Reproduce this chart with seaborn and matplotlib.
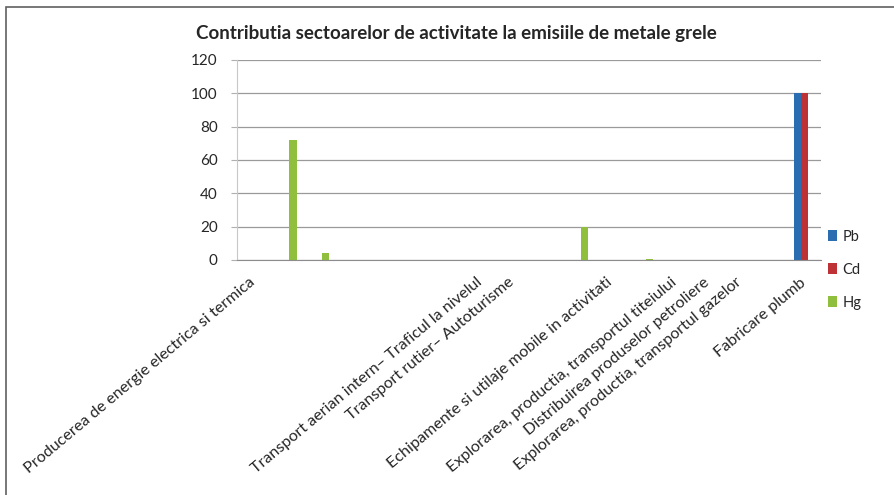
import pandas as pd
import numpy as np
import matplotlib.pyplot as plt
import seaborn as sns
from matplotlib.patches import Rectangle

# category labels (Excel shows blanks for unnamed rows)
sectors = [
    "Producerea de energie electrica si termica", "", "", "", "", "", "",
    "Transport aerian intern\u2013 Traficul la nivelul",
    "Transport rutier\u2013 Autoturisme", "", "",
    "Echipamente si utilaje mobile in activitati", "",
    "Explorarea, productia, transportul titeiului",
    "Distribuirea produselor petroliere",
    "Explorarea, productia, transportul gazelor", "",
    "Fabricare plumb",
]
pb = [0, 0, 0, 0, 0, 0, 0, 0, 0, 0, 0, 0, 0, 0, 0, 0, 0, 100]
cd = [0, 0, 0, 0, 0, 0, 0, 0, 0, 0, 0, 0, 0, 0, 0, 0, 0, 100]
hg = [0, 72, 4, 0, 0, 0, 0, 0, 0, 0, 20, 0, 0.3, 0, 0, 0, 0, 0]
metals = ["Pb", "Cd", "Hg"]
colors = ["#2a6db0", "#be3236", "#8fbf3c"]
yticks = [0, 20, 40, 60, 80, 100, 120]

n = len(sectors)
df = pd.DataFrame({
    "idx": list(range(n)) * 3,
    "metal": ["Pb"] * n + ["Cd"] * n + ["Hg"] * n,
    "val": pb + cd + hg,
})

sns.set_style("white")
plt.rcParams["font.family"] = ["Lato", "DejaVu Sans"]

fig = plt.figure(figsize=(8.95, 4.95), dpi=100)
ax = fig.add_axes([0.265, 0.475, 0.652, 0.404])

sns.barplot(data=df, x="idx", y="val", hue="metal", hue_order=metals,
            palette=colors, width=0.667, gap=0, saturation=1,
            linewidth=0, ax=ax)

ax.set_ylim(0, 120)
ax.set_xlim(-0.5, n - 0.5)
ax.set_yticks(yticks)
ax.set_yticklabels([str(v) for v in yticks], fontsize=11)
ax.yaxis.grid(True, color="#9a9a9a", linewidth=0.9)
ax.set_axisbelow(True)

ax.set_xticks(range(n))
ax.set_xticklabels(sectors, rotation=40, ha="right", va="center",
                   rotation_mode="anchor", fontsize=11.6)
ax.set_xticks(np.arange(-0.5, n), minor=True)
ax.tick_params(axis="x", which="major", length=0, pad=15)
ax.tick_params(axis="x", which="minor", length=4, color="#8c8c8c", width=0.8)
ax.tick_params(axis="y", length=4, color="#b0b0b0", left=True, pad=10)
ax.set_xlabel("")
ax.set_ylabel("")

for side in ["top", "right"]:
    ax.spines[side].set_visible(False)
ax.spines["left"].set_color("#c8c8c8")
ax.spines["bottom"].set_color("#8c8c8c")

fig.text(0.51, 0.933, "Contributia sectoarelor de activitate la emisiile de metale grele",
         ha="center", va="center", fontsize=13.5, fontweight="bold")

handles, labels = ax.get_legend_handles_labels()
ax.legend(handles, labels, loc="center left", bbox_to_anchor=(0.99, -0.05),
          frameon=False, handlelength=0.6, handleheight=0.8, handletextpad=0.4,
          labelspacing=1.3, fontsize=10.5)

fig.patches.append(Rectangle((0.007, -0.05), 1.1, 1.036, transform=fig.transFigure,
                             fill=False, edgecolor="#606060", linewidth=1.2))

fig.savefig("out.png", dpi=100, facecolor="white")
